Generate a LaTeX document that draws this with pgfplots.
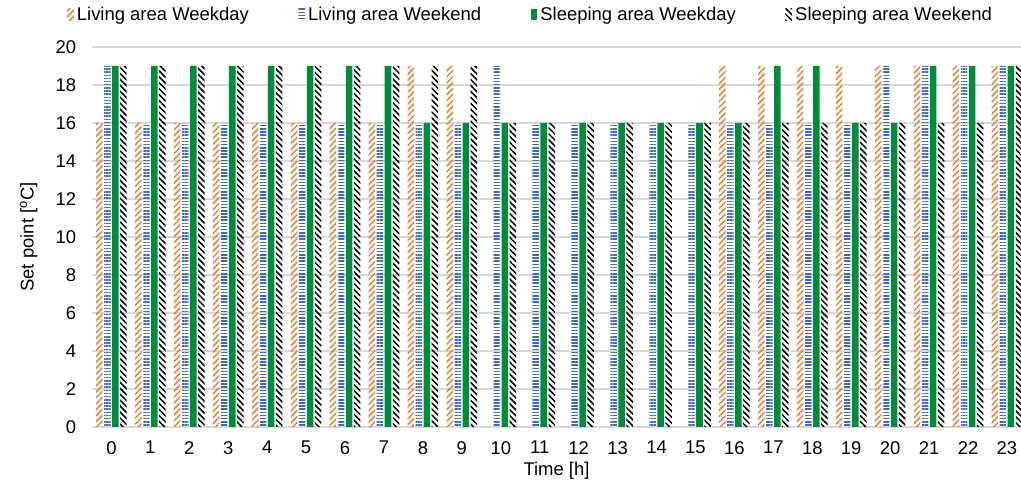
\documentclass[border=0pt]{standalone}
\usepackage{fontspec}
\setmainfont{Liberation Sans}
\usepackage{pgfplots}
\usepackage{pgfplotstable}
\pgfplotsset{compat=1.18}
\usetikzlibrary{patterns.meta}

\definecolor{lworange}{RGB}{237,125,49}
\definecolor{lwblue}{RGB}{60,105,195}
\definecolor{slgreen}{RGB}{0,140,58}
\definecolor{gridgray}{RGB}{217,217,217}

% Set points per hour: living/sleeping area, weekday/weekend
\pgfplotstableread{
h  lwd lwe swd swe
0  16  19  19  19
1  16  16  19  19
2  16  16  19  19
3  16  16  19  19
4  16  16  19  19
5  16  16  19  19
6  16  16  19  19
7  16  16  19  19
8  19  16  16  19
9  19  16  16  19
10 0   19  16  16
11 0   16  16  16
12 0   16  16  16
13 0   16  16  16
14 0   16  16  16
15 0   16  16  16
16 19  16  16  16
17 19  16  19  16
18 19  16  19  16
19 19  16  16  16
20 19  19  16  16
21 19  19  19  16
22 19  19  19  16
23 19  19  19  19
}\setpoints

\begin{document}
\begin{tikzpicture}
\begin{axis}[
  scale only axis,
  width=619.3pt, height=253.3pt,
  xmin=-0.5, xmax=23.36, ymin=0, ymax=20,
  xtick={0,...,23}, ytick={0,2,...,20},
  ymajorgrids, grid style={gridgray, line width=0.8pt},
  axis x line*=bottom, axis y line*=left,
  x axis line style={gridgray, line width=0.8pt, -},
  y axis line style={draw=none},
  tick style={draw=none},
  font=\fontsize{12.3}{14.5}\selectfont,
  /pgf/number format/assume math mode=true,
  ticklabel style={font=\fontsize{12.3}{14.5}\selectfont},
  xticklabel style={yshift=-6pt},
  yticklabel style={xshift=-7pt},
  xlabel={Time [h]},
  ylabel={Set point [\textsuperscript{o}C]},
  xlabel style={at={(axis description cs:0.5,-0.114)}, anchor=center},
  ylabel style={at={(axis description cs:-0.068,0.5)}, anchor=center},
  bar width=0.167,
  legend columns=4,
  legend style={draw=none, at={(0.4726,1)}, anchor=center, yshift=21.3pt,
    font=\fontsize{12.3}{14.5}\selectfont,
    /tikz/every even column/.append style={column sep=31pt}},
  legend image code/.code={\path[#1] (0pt,-3.5pt) rectangle (4.5pt,4pt);},
]
\addplot[ybar, bar shift=-0.31, draw=none,
  pattern={Lines[angle=45,distance=2.8pt,line width=1pt]}, pattern color=lworange]
  table[x=h,y=lwd]{\setpoints};
\addlegendentry{Living area Weekday}
\addplot[ybar, bar shift=-0.103, draw=none,
  pattern={Lines[angle=0,distance=2.1pt,line width=1pt]}, pattern color=lwblue]
  table[x=h,y=lwe]{\setpoints};
\addlegendentry{Living area Weekend}
\addplot[ybar, bar shift=0.103, draw=none, fill=slgreen]
  table[x=h,y=swd]{\setpoints};
\addlegendentry{Sleeping area Weekday}
\addplot[ybar, bar shift=0.31, draw=none,
  pattern={Lines[angle=-45,distance=2.8pt,line width=1pt]}, pattern color=black]
  table[x=h,y=swe]{\setpoints};
\addlegendentry{Sleeping area Weekend}
\end{axis}
\pgfresetboundingbox
\path[use as bounding box] (-61.3pt,-40.7pt) rectangle (619.3pt,284.6pt);
\end{tikzpicture}
\end{document}
